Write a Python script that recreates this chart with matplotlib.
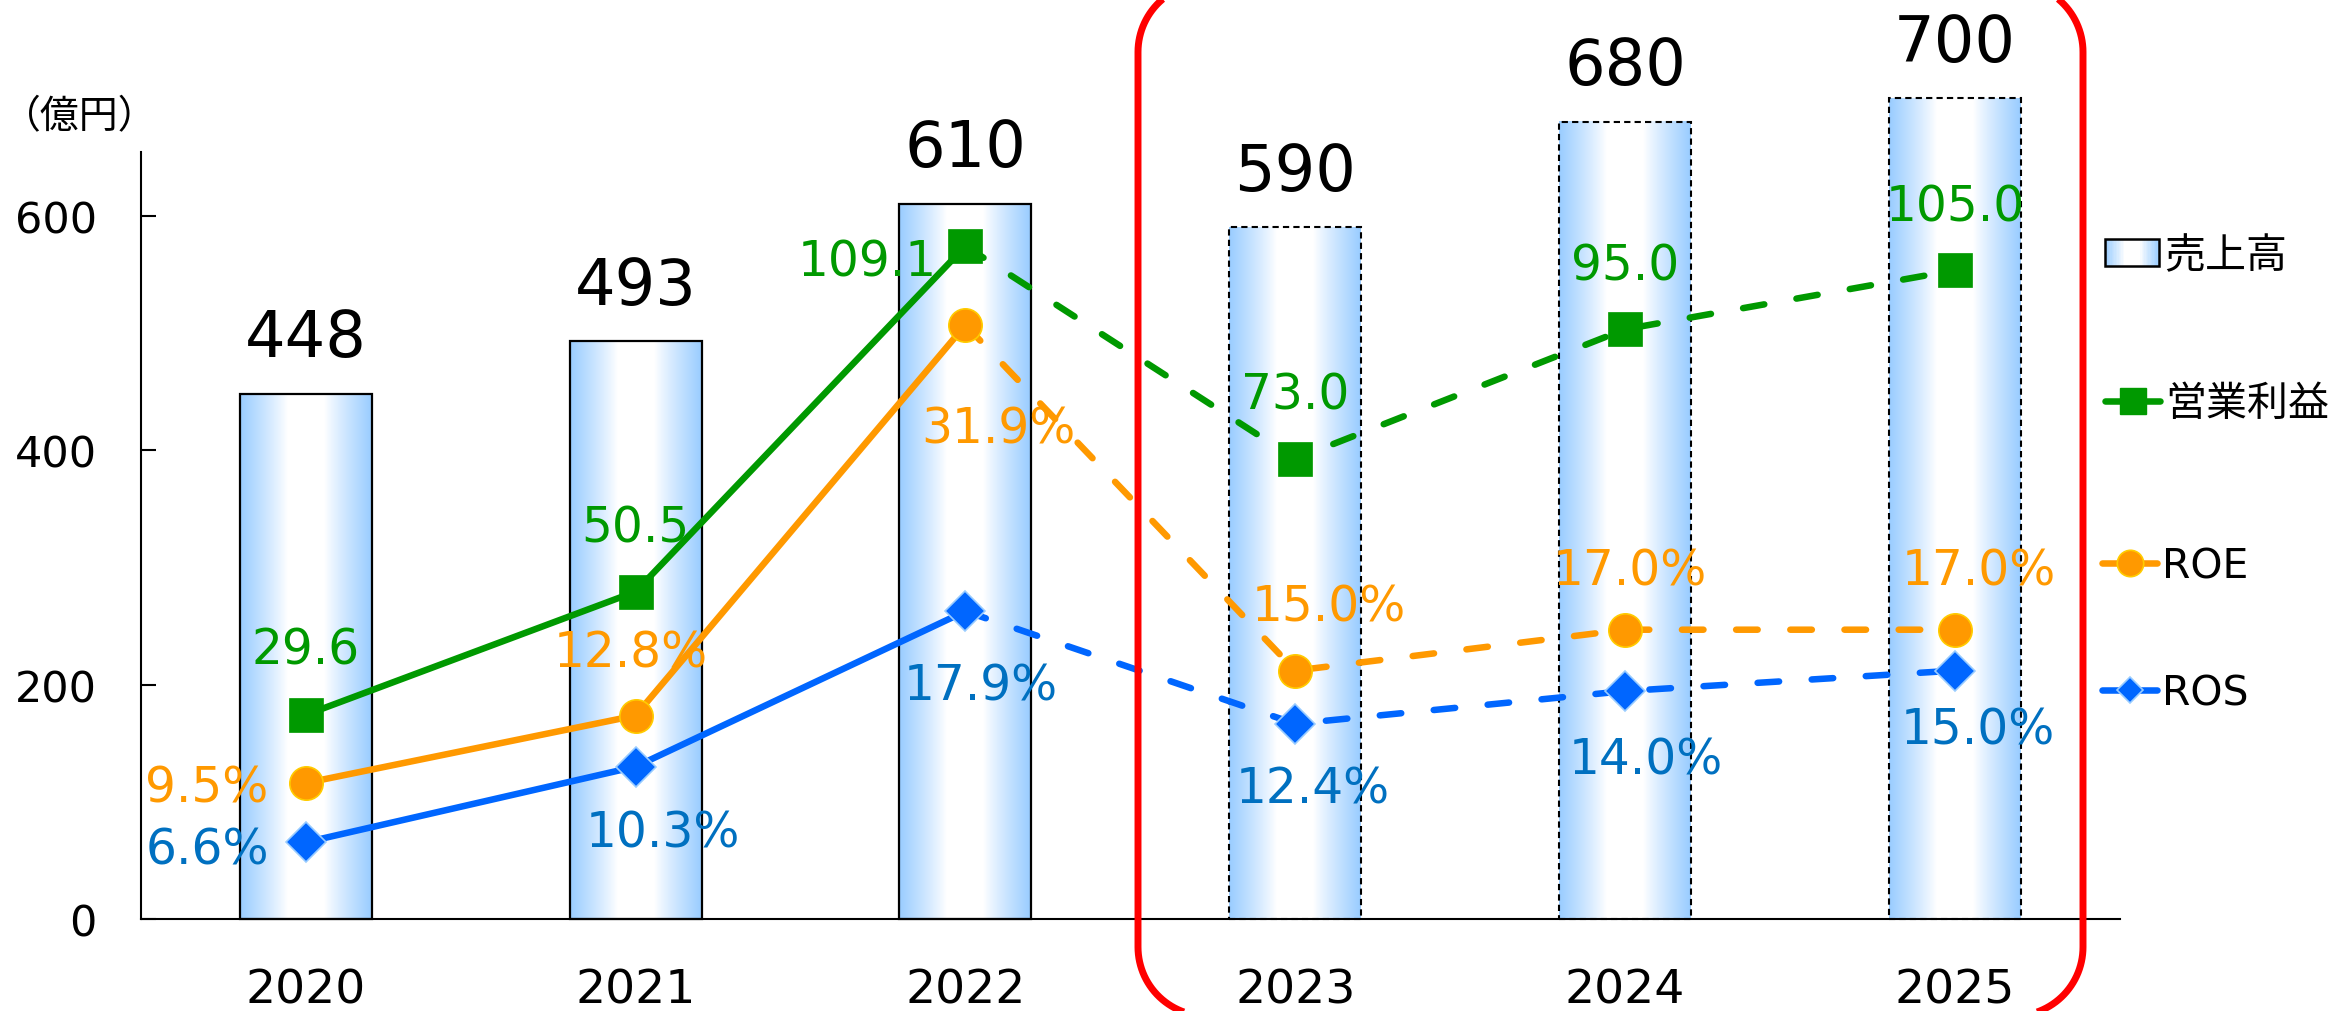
import numpy as np
import matplotlib
matplotlib.use('Agg')
import matplotlib.pyplot as plt
from matplotlib.patches import Rectangle
from matplotlib.lines import Line2D
from matplotlib.legend_handler import HandlerBase
from matplotlib.transforms import IdentityTransform

plt.rcParams['font.family'] = ['DejaVu Sans', 'Noto Sans CJK JP']

# ---------------- data ----------------
years = ['2020', '2021', '2022', '2023', '2024', '2025']
sales = [448, 493, 610, 590, 680, 700]          # 売上高 (億円)
profit = [29.6, 50.5, 109.1, 73.0, 95.0, 105.0]  # 営業利益
roe = [9.5, 12.8, 31.9, 15.0, 17.0, 17.0]        # ROE (%)
ros = [6.6, 10.3, 17.9, 12.4, 14.0, 15.0]        # ROS (%)
n_actual = 3                                      # 2020-2022 actual, later plan
legend_labels = ['売上高', '営業利益', 'ROE', 'ROS']
unit_label = '（億円）'
yticks = [0, 200, 400, 600]

# ---------------- style ----------------
GREEN = '#009900'
ORANGE = '#FF9900'
BLUE = '#0066FF'
BLUE_TXT = '#0070C0'
BAR_BLUE = np.array([153, 204, 255]) / 255.0
LW = 4.7
DASH = (3.3, 5.0)

W, H, DPI = 2336, 1012, 100
fig = plt.figure(figsize=(W / DPI, H / DPI), dpi=DPI)
ax = fig.add_axes([140.7 / W, 92 / H, (2120 - 140.7) / W, 766.7 / H])
ax2 = ax.twinx()
ax3 = ax.twinx()

x = np.arange(len(years))


def grad_colors(n):
    t = (np.arange(n) + 0.5) / n
    d = np.abs(t - 0.5) / 0.5
    f = np.clip((d - 0.28) / 0.72, 0, 1) ** 0.9
    return (1 - f)[:, None] * np.ones(3) + f[:, None] * BAR_BLUE


grad = grad_colors(200)[None, :, :]

# bars
bars = ax.bar(x, sales, width=0.4, facecolor='none', edgecolor='black', zorder=3, clip_on=False)
for i, b in enumerate(bars):
    if i < n_actual:
        b.set_linestyle('-')
        b.set_linewidth(1.6)
    else:
        b.set_linestyle((0, (3, 2)))
        b.set_linewidth(1.5)
    x0, w, h = b.get_x(), b.get_width(), b.get_height()
    im = ax.imshow(grad, extent=(x0, x0 + w, 0, h), aspect='auto', interpolation='bilinear', zorder=2)
    im.set_clip_on(False)
    ax.annotate(str(sales[i]), (x[i], sales[i]), xytext=(0, 27), textcoords='offset points',
                ha='center', va='baseline', fontsize=46, color='black', annotation_clip=False)

ax.set_xlim(-0.5, len(years) - 0.5)
ax.set_ylim(0, 654)
ax.set_yticks(yticks)
ax.set_xticks(x)
ax.set_xticklabels(years)
ax.tick_params(axis='x', length=0, pad=35, labelsize=34)
ax.tick_params(axis='y', direction='in', length=11, width=1.5, pad=31.5, labelsize=31)
for s in ['top', 'right']:
    ax.spines[s].set_visible(False)
for s in ['left', 'bottom']:
    ax.spines[s].set_linewidth(1.5)

ax2.set_ylim(-5, 125)
ax3.set_ylim(2.85, 40.35)
for a in (ax2, ax3):
    a.axis('off')
    a.set_xlim(-0.5, len(years) - 0.5)


def plot_series(axx, vals, color, marker, ms, mec, mew):
    axx.plot(x[:n_actual], vals[:n_actual], color=color, lw=LW, solid_capstyle='round', zorder=3)
    axx.plot(x[n_actual - 1:], vals[n_actual - 1:], color=color, lw=LW, dashes=DASH,
             dash_capstyle='round', zorder=3)
    axx.plot(x, vals, ls='none', marker=marker, ms=ms, mfc=color, mec=mec, mew=mew, zorder=4,
             clip_on=False)


plot_series(ax2, profit, GREEN, 's', 24, GREEN, 0.5)
plot_series(ax3, roe, ORANGE, 'o', 24, '#FFCC00', 1.2)
plot_series(ax3, ros, BLUE, 'D', 20, '#99CCFF', 1.2)

# label offsets in pixels (dx, dy downward) and horizontal alignment
profit_off = [(0, -65, 'center'), (0, -64, 'center'), (-29, 15, 'right'),
              (0, -64, 'center'), (0, -64, 'center'), (0, -64, 'center')]
roe_off = [(-37, 4, 'right'), (-5, -63, 'center'), (33, 103, 'center'),
           (34, -64, 'center'), (5, -59, 'center'), (24, -59, 'center')]
ros_off = [(-37, 7, 'right'), (27, 66, 'center'), (15, 74, 'center'),
           (17, 65, 'center'), (21, 68, 'center'), (23, 59, 'center')]


def add_labels(axx, vals, offs, color, fmt):
    for i, v in enumerate(vals):
        dx, dy, ha = offs[i]
        axx.annotate(fmt.format(v), (x[i], v), xytext=(dx * 0.72, -dy * 0.72),
                     textcoords='offset points', ha=ha, va='center', fontsize=35,
                     color=color, zorder=5, annotation_clip=False)


add_labels(ax2, profit, profit_off, GREEN, '{:.1f}')
add_labels(ax3, roe, roe_off, ORANGE, '{:.1f}%')
add_labels(ax3, ros, ros_off, BLUE_TXT, '{:.1f}%')

# unit label
fig.text(1.5 / W, 1 - 117.5 / H, unit_label, ha='left', va='center', fontsize=28,
         family=['Noto Sans CJK JP', 'DejaVu Sans'])


# legends
class GradHandler(HandlerBase):
    def create_artists(self, legend, orig_handle, xdescent, ydescent, width, height, fontsize, trans):
        n = 40
        cols = grad_colors(n)
        arts = []
        for i, c in enumerate(cols):
            arts.append(Rectangle((-xdescent + i * width / n, -ydescent), width / n * 1.1, height,
                                  facecolor=c, edgecolor='none', lw=0, transform=trans))
        arts.append(Rectangle((-xdescent, -ydescent), width, height, facecolor='none',
                              edgecolor='black', lw=1.8, transform=trans))
        return arts


bar_handle = Rectangle((0, 0), 1, 1)
h_profit = Line2D([], [], color=GREEN, lw=LW, marker='s', ms=19, mfc=GREEN, mec=GREEN,
                  solid_capstyle='round')
h_roe = Line2D([], [], color=ORANGE, lw=LW, marker='o', ms=19, mfc=ORANGE, mec='#FFCC00', mew=1.2,
               solid_capstyle='round')
h_ros = Line2D([], [], color=BLUE, lw=LW, marker='D', ms=13, mfc=BLUE, mec='#99CCFF', mew=1.2,
               solid_capstyle='round')

LEG_FS = 29.5
leg_specs = [
    (bar_handle, legend_labels[0], 2105, 257, 1.32, 0.61, {Rectangle: GradHandler()}),
    (h_profit, legend_labels[1], 2105, 405, 1.35, 0.7, None),
    (h_roe, legend_labels[2], 2102, 567.5, 1.35, 0.7, None),
    (h_ros, legend_labels[3], 2102, 694, 1.35, 0.7, None),
]
for hnd, lab, lx, ly, hl, hh, hmap in leg_specs:
    kw = dict(handles=[hnd], labels=[lab], loc='center left', bbox_to_anchor=(lx / W, 1 - ly / H),
              frameon=False, fontsize=LEG_FS, handlelength=hl, handleheight=hh, handletextpad=0.12,
              borderpad=0, borderaxespad=0)
    if hmap:
        kw['handler_map'] = hmap
    fig.legend(**kw)

# red rounded frame around plan years (open sides; top and bottom run off the canvas)
R, TOP, BOT = 69.0, 1028.0, -5.0
XL, XR = 1138.0, 2083.0


def frame_side(xe, sign):
    cx = xe + sign * R
    a1 = np.linspace(np.pi / 2, np.pi / 2 + sign * np.pi / 2, 30)
    a2 = np.linspace(np.pi / 2 + sign * np.pi / 2, np.pi / 2 + sign * np.pi, 30)
    xs = np.concatenate([cx + R * np.cos(a1), cx + R * np.cos(a2)])
    ys = np.concatenate([TOP - R + R * np.sin(a1), BOT + R + R * np.sin(a2)])
    return xs, ys


for xe, sgn in ((XL, 1), (XR, -1)):
    xs, ys = frame_side(xe, sgn)
    fig.add_artist(Line2D(xs, ys, transform=IdentityTransform(), color='#FF0000', lw=5,
                          solid_joinstyle='round', solid_capstyle='butt', zorder=10))

fig.savefig('out.png', dpi=DPI)
